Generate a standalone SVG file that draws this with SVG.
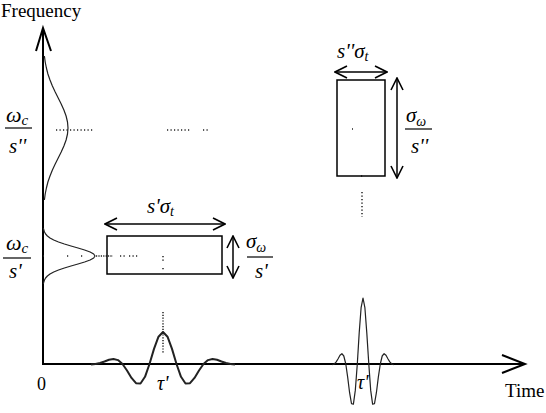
<svg xmlns="http://www.w3.org/2000/svg" width="546" height="413" viewBox="0 0 546 413" font-family="'DejaVu Serif', 'Liberation Serif', serif">
<defs>
<style>
.m{font-style:italic}
.ax{fill:none;stroke:#000;stroke-width:2}
.ln{fill:none;stroke:#000;stroke-width:1.5}
.fr{stroke:#000;stroke-width:1.2}
.dot{fill:none;stroke:#222;stroke-width:1.5;stroke-dasharray:1.2 2.3}
.curve{fill:none;stroke:#222;stroke-width:1.2;stroke-linejoin:round}
.t{font-family:"Liberation Serif","DejaVu Serif",serif}
</style>
<marker id="ah" viewBox="0 0 14 14" refX="13" refY="7" markerWidth="14" markerHeight="14" markerUnits="userSpaceOnUse" orient="auto-start-reverse">
<path d="M1,1 L13,7 L1,13" fill="none" stroke="#000" stroke-width="1.6"/>
</marker>
</defs>
<rect width="546" height="413" fill="#fff"/>

<g id="axes">
<path class="ax" d="M43,29 L43,364 L524,364"/>
<path class="ax" d="M36,51 L43,28 L51,51"/>
<path class="ax" d="M502,355 L525,364 L502,373"/>
<text class="t" x="1" y="17" font-size="19">Frequency</text>
<text class="t" x="505" y="397" font-size="19">Time</text>
<text class="t" x="37" y="390" font-size="18">0</text>
</g>

<g id="spectra">
<polyline class="curve" points="44.4,56 45.2,62 46.4,68 47.9,74 50,80 52.4,86 55.2,92 58.2,98 61.2,104 63.9,110 66.1,116 67.5,122 68,128 67.5,134 66.1,140 63.9,146 61.2,152 58.2,158 55.2,164 52.4,170 50,176 47.9,182 46.4,188 45.2,194 44.4,200"/>
<polyline class="curve" points="43.4,228 43.8,230 44.5,232 45.6,234 47.4,236 50,238 53.7,240 58.5,242 64.4,244 71,246 78,248 84.6,250 90.1,252 93.7,254 95,256 93.7,258 90.1,260 84.6,262 78,264 71,266 64.4,268 58.5,270 53.7,272 50,274 47.4,276 45.6,278 44.5,280 43.8,282 43.4,284"/>
</g>

<g id="wavelet1">
<polyline class="curve" style="stroke-width:2" points="91,364.4 95.5,364 100,363 104.5,361.5 109,359.8 113.5,359 118,360.1 122.5,364 127,370.5 131.5,377.9 136,383.2 140.5,383.5 145,376.8 149.5,364 154,348.9 158.5,336.7 163,332 167.5,336.7 172,348.9 176.5,364 181,376.8 185.5,383.5 190,383.2 194.5,377.9 199,370.5 203.5,364 208,360.1 212.5,359 217,359.8 221.5,361.5 226,363 230.5,364 235,364.4"/>
<text class="t m" x="157" y="390" font-size="20">τ'</text>
</g>

<g id="wavelet2">
<polyline class="curve" points="332.3,364.8 334.3,364 336.2,361.9 338.1,358.8 340,355.3 341.9,353.7 343.8,356 345.8,364 347.7,377.4 349.6,392.7 351.5,403.6 353.4,404.2 355.3,390.4 357.3,364 359.2,332.9 361.1,307.7 363,298 364.9,307.7 366.8,332.9 368.8,364 370.7,390.4 372.6,404.2 374.5,403.6 376.4,392.7 378.3,377.4 380.3,364 382.2,356 384.1,353.7 386,355.3 387.9,358.8 389.8,361.9 391.8,364 393.7,364.8"/>
<text class="t m" x="357" y="389" font-size="20">τ'</text>
</g>

<g id="label-upper-left">
<text class="t m" x="6" y="122" font-size="22">ω<tspan font-size="15" dy="3">c</tspan></text>
<line class="fr" x1="5" y1="128" x2="32" y2="128"/>
<text class="t m" x="9" y="153" font-size="21">s''</text>
</g>

<g id="label-lower-left">
<text class="t m" x="6" y="250" font-size="22">ω<tspan font-size="15" dy="3">c</tspan></text>
<line class="fr" x1="3" y1="258" x2="31" y2="258"/>
<text class="t m" x="9" y="278" font-size="21">s'</text>
</g>

<g id="dots">
<line class="dot" x1="56" y1="130" x2="93" y2="130"/>
<line class="dot" x1="167" y1="130" x2="190" y2="130"/>
<line class="dot" x1="203" y1="130" x2="209" y2="130"/>
<line class="dot" x1="43" y1="256" x2="44" y2="256"/>
<line class="dot" x1="67" y1="256" x2="69" y2="256"/>
<line class="dot" x1="81" y1="256" x2="83" y2="256"/>
<line class="dot" x1="96" y1="256" x2="113" y2="256" style="stroke-dasharray:1.2 1.2"/>
<line class="dot" x1="120" y1="256" x2="125" y2="256"/>
<line class="dot" x1="129" y1="256" x2="139" y2="256"/>
<line class="dot" x1="163" y1="256" x2="163" y2="263"/>
<line class="dot" x1="163" y1="268" x2="163" y2="270"/>
<line class="dot" x1="163" y1="312" x2="163" y2="354" style="stroke-dasharray:1.2 1.6"/>
<line class="dot" x1="352" y1="129" x2="353" y2="129"/>
<line class="dot" x1="361" y1="176" x2="363" y2="176"/>
<line class="dot" x1="362" y1="192" x2="362" y2="217"/>
</g>

<g id="box-lower">
<rect class="ln" x="107" y="236" width="115" height="38"/>
<text class="t m" x="147" y="213" font-size="21">s'σ<tspan font-size="14" dy="3">t</tspan></text>
</g>

<g id="label-lower-right">
<text class="t m" x="246" y="248" font-size="21">σ<tspan font-size="14" dy="4">ω</tspan></text>
<line class="fr" x1="247" y1="257" x2="273" y2="257"/>
<text class="t m" x="255" y="278" font-size="21">s'</text>
</g>

<g id="box-upper">
<rect class="ln" x="337" y="80" width="48" height="96"/>
<text class="t m" x="337" y="58" font-size="21">s''σ<tspan font-size="14" dy="3">t</tspan></text>
</g>

<g id="label-upper-right">
<text class="t m" x="406" y="122" font-size="21">σ<tspan font-size="14" dy="4">ω</tspan></text>
<line class="fr" x1="405" y1="129" x2="432" y2="129"/>
<text class="t m" x="411" y="153" font-size="21">s''</text>
</g>

<g id="connectors">
<line class="ln" x1="105" y1="224" x2="225" y2="224" marker-start="url(#ah)" marker-end="url(#ah)"/>
<line class="ln" x1="233" y1="236" x2="233" y2="278" marker-start="url(#ah)" marker-end="url(#ah)"/>
<line class="ln" x1="335" y1="72" x2="387" y2="72" marker-start="url(#ah)" marker-end="url(#ah)"/>
<line class="ln" x1="397" y1="78" x2="397" y2="178" marker-start="url(#ah)" marker-end="url(#ah)"/>
</g>
</svg>
